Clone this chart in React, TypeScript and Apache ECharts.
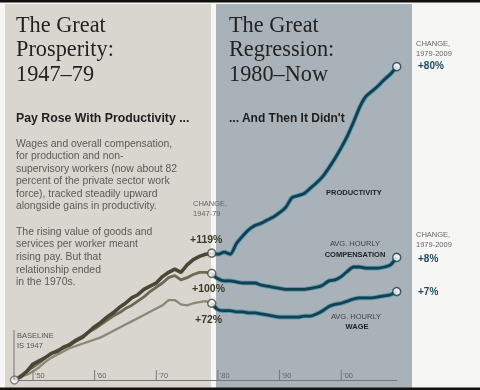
import React, { useEffect, useRef } from "react";
import * as echarts from "echarts";

// 1947–1979 (index 0 = 1947), percent change since 1947
const prosperityStart = 1947;
const productivityEarly = [0, 3, 8, 15, 18, 21, 25, 27, 31, 33, 37, 40, 45, 50, 54, 59, 63, 68, 72, 77, 80, 85, 88, 91, 97, 101, 104, 101, 108, 113, 116, 118, 119];
const compensationEarly = [0, 4, 8, 12, 16, 21, 25, 28, 30, 34, 38, 41, 45, 48, 52, 56, 60, 63, 67, 70, 74, 78, 83, 87, 91, 96, 98, 94, 96, 99, 101, 101, 100];
const wageEarly = [0, 3, 5, 8, 12, 17, 21, 24, 27, 30, 32, 34, 36, 38, 40, 43, 46, 49, 52, 55, 58, 61, 64, 67, 70, 75, 75, 71, 70, 72, 73, 74, 72];

// 1979–2009 (index 0 = 1979)
const regressionStart = 1979;
const productivityLate = [119, 118, 120, 118, 128, 135, 141, 145, 147, 150, 153, 157, 162, 171, 173, 175, 180, 185, 191, 199, 208, 218, 229, 242, 256, 266, 271, 276, 282, 287, 294];
const compensationLate = [100, 95, 93, 93, 92, 91, 91, 91, 89, 88, 87, 86, 85, 85, 85, 85, 86, 87, 89, 93, 94, 97, 102, 106, 106, 105, 105, 105, 106, 108, 115];
const wageLate = [72, 66, 65, 65, 64, 64, 63, 63, 62, 61, 60, 59, 59, 59, 59, 60, 60, 62, 65, 69, 71, 72, 74, 76, 77, 77, 77, 78, 79, 80, 83];

const tickYears = [1950, 1960, 1970, 1980, 1990, 2000];
const tickLabels = ["'50", "'60", "'70", "'80", "'90", "'00"];

const toPairs = (start: number, vals: number[]) => vals.map((v, i) => [start + i, v]);

const SANS = "'Liberation Sans', Arial, sans-serif";
const SERIF = "'Liberation Serif', 'Times New Roman', serif";

export default function App() {
  const ref = useRef<HTMLDivElement>(null);
  useEffect(() => {
    if (!ref.current) return;
    const chart = echarts.init(ref.current, null, { renderer: "svg" });

    const early = [productivityEarly, compensationEarly, wageEarly];
    const late = [productivityLate, compensationLate, wageLate];
    const earlyColors = ["#4c4635", "#6d6955", "#8c8873"];
    const earlyWidths = [3.6, 2.8, 2.3];
    const lateDark = "#173d50";
    const lateGlow = "#4f9bb0";

    const series: any[] = [];
    early.forEach((vals, i) => {
      series.push({
        type: "line",
        data: toPairs(prosperityStart, vals),
        showSymbol: false,
        lineStyle: { color: earlyColors[i], width: earlyWidths[i] },
        z: 5 - i,
      });
    });
    late.forEach((vals) => {
      series.push({
        type: "line",
        data: toPairs(regressionStart, vals),
        showSymbol: false,
        smooth: 0.25,
        lineStyle: { color: lateGlow, width: 4.6 },
        z: 6,
      });
      series.push({
        type: "line",
        data: toPairs(regressionStart, vals),
        showSymbol: false,
        smooth: 0.25,
        lineStyle: { color: lateDark, width: 2.8 },
        z: 7,
      });
    });
    series.push({
      type: "scatter",
      data: early.map((v) => [regressionStart, v[v.length - 1]]),
      symbol: "circle",
      symbolSize: 8,
      itemStyle: { color: "#ffffff", borderColor: "#4c4635", borderWidth: 1.5 },
      z: 10,
    });
    series.push({
      type: "scatter",
      data: late.map((v) => [regressionStart + v.length - 1, v[v.length - 1]]),
      symbol: "circle",
      symbolSize: 8,
      itemStyle: { color: "#ffffff", borderColor: lateDark, borderWidth: 1.5 },
      z: 10,
    });
    series.push({
      type: "scatter",
      data: [[prosperityStart, productivityEarly[0]]],
      symbol: "circle",
      symbolSize: 8,
      itemStyle: { color: "#ffffff", borderColor: "#666", borderWidth: 1.5 },
      z: 10,
    });
    late.forEach((vals) => {
      const y = vals[vals.length - 1];
      series.push({
        type: "line",
        data: [[2009.5, y], [2011.2, y]],
        showSymbol: false,
        lineStyle: { color: "#9aa0a2", width: 1 },
        z: 4,
      });
    });

    const t = (x: number, y: number, text: string, style: any) => ({
      type: "text",
      x,
      y,
      z: 50,
      silent: true,
      style: { text, fontFamily: SANS, ...style },
    });

    const graphic: any[] = [
      { type: "rect", z: -20, shape: { x: 0, y: 0, width: 480, height: 390 }, style: { fill: "#f6f6f4" } },
      { type: "rect", z: -19, shape: { x: 5, y: 4, width: 206, height: 384 }, style: { fill: "#d9d6d0" } },
      { type: "rect", z: -19, shape: { x: 216, y: 4, width: 196, height: 384 }, style: { fill: "#a9b2b8" } },
      { type: "rect", z: -18, shape: { x: 0, y: 0, width: 480, height: 2.5 }, style: { fill: "#111" } },
      { type: "rect", z: -18, shape: { x: 0, y: 387.5, width: 480, height: 3 }, style: { fill: "#111" } },
      t(16, 12, "The Great\nProsperity:\n1947–79", { fontFamily: SERIF, fontSize: 22.3, lineHeight: 24.5, fill: "#222" }),
      t(229, 12, "The Great\nRegression:\n1980–Now", { fontFamily: SERIF, fontSize: 22.3, lineHeight: 24.5, fill: "#222" }),
      t(16, 112, "Pay Rose With Productivity ...", { fontSize: 12.3, fontWeight: "bold", fill: "#1e1e1e" }),
      t(229, 112, "... And Then It Didn't", { fontSize: 12, fontWeight: "bold", fill: "#1e1e1e" }),
      t(16, 137, "Wages and overall compensation,\nfor production and non-\nsupervisory workers (now about 82\npercent of the private sector work\nforce), tracked steadily upward\nalongside gains in productivity.", { fontSize: 10.4, lineHeight: 12.5, fill: "#5a5a58" }),
      t(16, 225, "The rising value of goods and\nservices per worker meant\nrising pay. But that\nrelationship ended\nin the 1970s.", { fontSize: 10.4, lineHeight: 12.6, fill: "#5a5a58" }),
      t(193, 199, "CHANGE,\n1947-79", { fontSize: 7.5, lineHeight: 9.5, fill: "#666" }),
      t(190, 233, "+119%", { fontSize: 10.5, fontWeight: "bold", fill: "#3d3a2c" }),
      t(192, 282, "+100%", { fontSize: 10.5, fontWeight: "bold", fill: "#3d3a2c" }),
      t(195, 313, "+72%", { fontSize: 10.5, fontWeight: "bold", fill: "#3d3a2c" }),
      t(326, 188, "PRODUCTIVITY", { fontSize: 7.5, fontWeight: "bold", fill: "#222" }),
      t(355, 239, "AVG. HOURLY", { fontSize: 7.5, fill: "#444", align: "center" }),
      t(355, 250, "COMPENSATION", { fontSize: 7.5, fontWeight: "bold", fill: "#222", align: "center" }),
      t(356, 312, "AVG. HOURLY", { fontSize: 7.5, fill: "#444", align: "center" }),
      t(357, 322, "WAGE", { fontSize: 7.5, fontWeight: "bold", fill: "#222", align: "center" }),
      t(416, 39, "CHANGE,\n1979-2009", { fontSize: 7.5, lineHeight: 9.5, fill: "#666" }),
      t(418, 60, "+80%", { fontSize: 10, fontWeight: "bold", fill: "#1d4a5c" }),
      t(416, 230, "CHANGE,\n1979-2009", { fontSize: 7.5, lineHeight: 9.5, fill: "#666" }),
      t(418, 253, "+8%", { fontSize: 10, fontWeight: "bold", fill: "#1d4a5c" }),
      t(418, 286, "+7%", { fontSize: 10, fontWeight: "bold", fill: "#1d4a5c" }),
      t(17, 331, "BASELINE\nIS 1947", { fontSize: 7.5, lineHeight: 9.5, fill: "#555" }),
      { type: "line", z: 40, shape: { x1: 14, y1: 330, x2: 14, y2: 380 }, style: { stroke: "#777", lineWidth: 1 } },
    ];

    chart.setOption({
      animation: false,
      grid: { left: 14.5, right: 83.3, top: 17.6, bottom: 10, containLabel: false },
      xAxis: {
        type: "value",
        min: 1947,
        max: 2009,
        splitLine: { show: false },
        axisLine: { show: true, onZero: false, lineStyle: { color: "#777", width: 1 } },
        axisTick: { show: false },
        axisLabel: { show: false },
      },
      yAxis: {
        type: "value",
        min: 0,
        max: 340,
        show: false,
        splitLine: { show: false },
      },
      series,
      graphic,
    });

    const tickGraphics: any[] = [];
    tickYears.forEach((yr, i) => {
      const p = chart.convertToPixel({ gridIndex: 0 }, [yr, 0]) as number[];
      tickGraphics.push({ type: "line", z: 40, shape: { x1: p[0], y1: p[1] - 10, x2: p[0], y2: p[1] }, style: { stroke: "#777", lineWidth: 1 } });
      tickGraphics.push({ type: "text", z: 40, x: p[0] + 2, y: p[1] - 9, style: { text: tickLabels[i], fontFamily: SANS, fontSize: 7.5, fill: "#666" } });
    });
    chart.setOption({ graphic: [...graphic, ...tickGraphics] });

    return () => chart.dispose();
  }, []);
  return <div ref={ref} style={{ position: "fixed", left: 0, top: 0, width: 480, height: 390 }} />;
}
